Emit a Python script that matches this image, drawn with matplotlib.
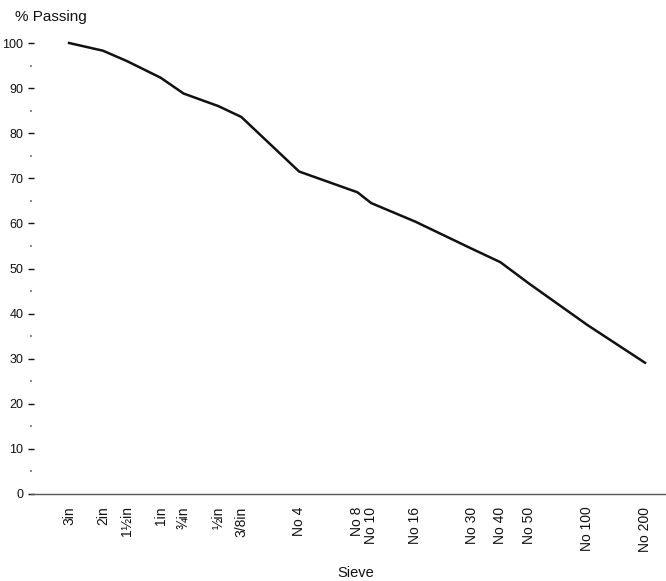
import matplotlib
matplotlib.use("Agg")
import matplotlib.pyplot as plt
from matplotlib.ticker import FixedLocator, MultipleLocator

plt.rcParams['font.family'] = ['Liberation Sans', 'DejaVu Sans']

sieve_labels = ["3in", "2in", "1½in", "1in", "¾in", "½in", "3/8in", "No 4",
                "No 8", "No 10", "No 16", "No 30", "No 40", "No 50", "No 100", "No 200"]
sieve_mm = [75, 50, 37.5, 25, 19, 12.5, 9.5, 4.75,
            2.36, 2.0, 1.18, 0.6, 0.425, 0.3, 0.15, 0.075]
pct_passing = [100, 98.3, 96.0, 92.3, 88.8, 86.0, 83.6, 71.5,
               66.9, 64.5, 60.4, 54.4, 51.4, 46.6, 37.5, 29.1]

fig = plt.figure(figsize=(6.66, 5.81), dpi=100)
ax = fig.add_axes([31/666, 87/581, (666-31)/666, (494-43)/581])

ax.plot(sieve_mm, pct_passing, color="#111111", lw=1.8, clip_on=False,
        solid_joinstyle="round")

ax.set_xscale("log")
ax.set_xlim(118.4, 0.0583)
ax.set_ylim(0, 100)

ax.xaxis.set_minor_locator(FixedLocator([]))
ax.set_xticks(sieve_mm)
ax.set_xticklabels(sieve_labels, rotation=90, fontsize=10)
ax.tick_params(axis="x", length=0, pad=9, colors="#111111")

ax.yaxis.set_major_locator(MultipleLocator(10))
ax.yaxis.set_minor_locator(MultipleLocator(5))
ax.tick_params(axis="y", which="major", direction="inout", length=5, width=1,
               pad=3, labelsize=9, colors="#111111")
ax.tick_params(axis="y", which="minor", direction="inout", length=2, width=1.2,
               colors="#777777")

for s in ["top", "right", "left"]:
    ax.spines[s].set_visible(False)
ax.spines["bottom"].set_color("#555555")
ax.spines["bottom"].set_linewidth(1.0)

fig.text(15/666, 1 - 17/581, "% Passing", fontsize=11, va="center", ha="left",
         color="#111111")
fig.text(356/666, 1 - 573/581, "Sieve", fontsize=10.5, va="center", ha="center",
         color="#111111")

fig.savefig("out.png", dpi=100, facecolor="white")
